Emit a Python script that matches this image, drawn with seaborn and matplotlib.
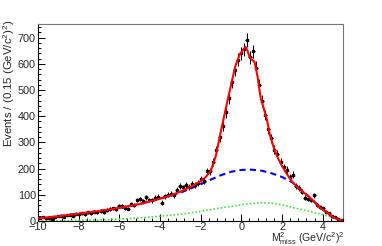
import matplotlib
matplotlib.use("Agg")
import matplotlib.pyplot as plt
import numpy as np
import pandas as pd
import seaborn as sns
from matplotlib.ticker import MultipleLocator

# binned data: 100 bins of 0.15 from -10 to 5
bin_lo, bin_w = -10.0, 0.15
counts = [12, 15, 10, 13, 9, 16, 18, 21, 17, 22,
          24, 20, 28, 27, 30, 26, 34, 29, 36, 34,
          38, 33, 42, 45, 48, 44, 58, 56, 50, 47,
          66, 60, 80, 84, 75, 90, 80, 79, 88, 92,
          70, 95, 100, 105, 98, 120, 132, 128, 137, 130,
          140, 138, 145, 160, 152, 190, 190, 225, 270, 320,
          362, 415, 470, 530, 578, 615, 640, 655, 690, 625,
          648, 585, 520, 458, 405, 350, 315, 272, 255, 225,
          205, 195, 168, 177, 133, 125, 112, 88, 85, 80,
          98, 62, 55, 48, 35, 30, 20, 14, 8, 4]

# total fit (red)
fit_x = [-10, -9, -8, -7, -6, -5, -4, -3.5, -3, -2.5, -2, -1.75, -1.5, -1.25, -1.0,
         -0.75, -0.5, -0.3, -0.1, 0.05, 0.2, 0.3, 0.4, 0.5, 0.65, 0.8, 0.95, 1.1,
         1.25, 1.4, 1.6, 1.8, 2.0, 2.25, 2.5, 2.75, 3.0, 3.25, 3.5, 3.75, 4.0, 4.25,
         4.5, 4.75, 5.0]
fit_y = [10, 18, 28, 38, 50, 65, 85, 97, 112, 130, 152, 168, 192, 250, 345,
         435, 522, 590, 632, 650, 665, 650, 628, 618, 607, 550, 470, 430,
         390, 330, 278, 240, 210, 178, 150, 130, 112, 98, 80, 58, 44, 30,
         15, 6, 1]

# background (blue dashed)
bkg_x = [-10, -9, -8, -7, -6, -5, -4, -3, -2.5, -2, -1.5, -1, -0.5, 0, 0.5, 1,
         1.5, 2, 2.5, 3, 3.5, 4, 4.5, 5]
bkg_y = [10, 18, 28, 38, 50, 65, 85, 108, 124, 140, 158, 175, 188, 195, 196, 192,
         182, 168, 148, 115, 80, 44, 14, 1]

# second component (green dotted)
oth_x = [-10, -9, -8, -7, -6, -5, -4, -3, -2.5, -2, -1, 0, 0.5, 1, 1.5, 2, 2.5,
         3, 3.5, 4, 4.5, 5]
oth_y = [0, 1, 2, 4, 7, 12, 18, 26, 31, 37, 50, 62, 67, 70, 68, 62, 52,
         43, 34, 25, 13, 2]

sns.set_style("ticks")
plt.rcParams["font.family"] = ["Liberation Sans", "DejaVu Sans"]
plt.rcParams["mathtext.fontset"] = "custom"
plt.rcParams["mathtext.rm"] = "Liberation Sans"
plt.rcParams["mathtext.it"] = "Liberation Sans"
plt.rcParams["font.size"] = 7.8

fig = plt.figure(figsize=(3.82, 2.46), dpi=100)
ax = fig.add_axes([0.0995, 0.1016, 0.7985, 0.8008])

centers = bin_lo + bin_w * (np.arange(len(counts)) + 0.5)
data = pd.DataFrame({"x": centers, "n": counts})
ax.errorbar(data["x"], data["n"], yerr=np.sqrt(data["n"]), xerr=bin_w / 2,
            fmt="s", ms=1.6, color="black", ecolor="black", elinewidth=0.7,
            capsize=0, zorder=3)

sns.lineplot(x=oth_x, y=oth_y, ax=ax, color="#44e044", lw=1.2,
             linestyle=(0, (1, 1.2)), zorder=2)
sns.lineplot(x=bkg_x, y=bkg_y, ax=ax, color="#0000ff", lw=1.5,
             linestyle=(0, (3, 2)), zorder=2)
sns.lineplot(x=fit_x, y=fit_y, ax=ax, color="#ff0000", lw=1.5, zorder=4)

ax.set_xlim(-10, 5)
ax.set_ylim(0, 752)
ax.xaxis.set_major_locator(MultipleLocator(2))
ax.xaxis.set_minor_locator(MultipleLocator(0.4))
ax.yaxis.set_major_locator(MultipleLocator(100))
ax.yaxis.set_minor_locator(MultipleLocator(20))
ax.tick_params(which="both", direction="in", top=False, right=False,
               labelsize=7.8, width=0.7, color="black")
ax.tick_params(axis="y", which="major", length=5, pad=1.5)
ax.tick_params(axis="y", which="minor", length=2.5)
ax.tick_params(axis="x", which="major", length=5, pad=0.5)
ax.tick_params(axis="x", which="minor", length=2.5)
for s in ["left", "bottom"]:
    ax.spines[s].set_color("black")
    ax.spines[s].set_linewidth(0.8)
for s in ["top", "right"]:
    ax.spines[s].set_visible(True)
    ax.spines[s].set_color("#777777")
    ax.spines[s].set_linewidth(0.8)

ax.set_ylabel(r"Events / (0.15 (GeV/c$^{2}$)$^{2}$)", fontsize=8.2, loc="top")
ax.yaxis.set_label_coords(-0.07, 1.02)
ax.set_xlabel(r"M$^{2}_{\rm miss}$ (GeV/c$^{2}$)$^{2}$", fontsize=7.6, loc="right")
ax.xaxis.label.set_verticalalignment("top")
ax.xaxis.set_label_coords(1.007, -0.049)

fig.savefig("out.png", dpi=100)
